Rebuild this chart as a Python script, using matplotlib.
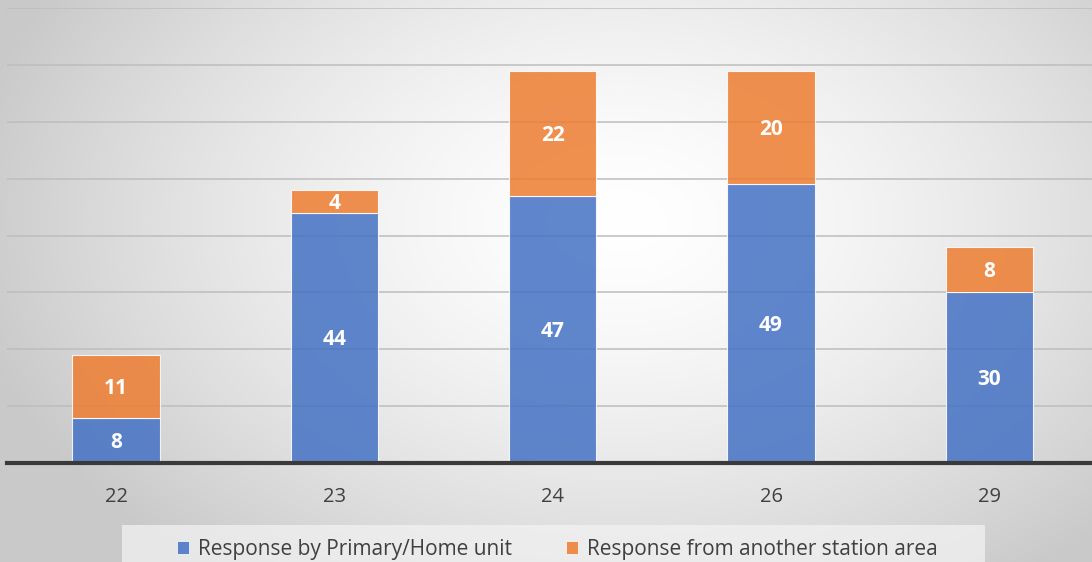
import numpy as np
import matplotlib
matplotlib.use("Agg")
import matplotlib.pyplot as plt
from matplotlib.patches import Patch, Rectangle
from matplotlib.transforms import offset_copy

categories = ["22", "23", "24", "26", "29"]
primary = [8, 44, 47, 49, 30]
another = [11, 4, 22, 20, 8]
series_names = ["Response by Primary/Home unit", "Response from another station area"]

W, H = 1092, 562
fig = plt.figure(figsize=(W / 100, H / 100), dpi=100)
plt.rcParams['font.family'] = ['Open Sans', 'DejaVu Sans']

# radial background gradient
bg = fig.add_axes([0, 0, 1, 1], zorder=-10)
yy, xx = np.mgrid[0:H, 0:W]
cx, cy = 620, 220
r = np.sqrt(((xx - cx) / 640) ** 2 + ((yy - cy) / 430) ** 2)
v = 1.0 - 0.2 * np.clip(r, 0, 1.3) ** 1.5
v = np.clip(v, 0.79, 1.0)
bg.imshow(np.dstack([v, v, v]), extent=[0, W, H, 0], aspect='auto', interpolation='bilinear')
bg.set_axis_off()

left = 7 / W
step = 218.3
ax_w = 5 * step / W
bottom = (H - 463) / H
top_px = 8
ax_h = (463 - top_px) / H
ax = fig.add_axes([left, bottom, ax_w, ax_h])
ax.patch.set_alpha(0)

x = np.arange(len(categories))
bw = 0.40
blue = '#4472C4'
orange = '#ED7D31'
ax.bar(x, primary, bw, color=blue, alpha=0.85, edgecolor='white', linewidth=0.8, zorder=3)
ax.bar(x, another, bw, bottom=primary, color=orange, alpha=0.85, edgecolor='white', linewidth=0.8, zorder=3)

lab_tr = offset_copy(ax.transData, fig=fig, x=0, y=-2, units='dots')
for i in range(len(categories)):
    ax.text(x[i], primary[i] / 2, str(primary[i]), ha='center', va='center', color='white',
            fontsize=15, fontweight='bold', zorder=5, transform=lab_tr)
    ax.text(x[i], primary[i] + another[i] / 2, str(another[i]), ha='center', va='center', color='white',
            fontsize=15, fontweight='bold', zorder=5, transform=lab_tr)

ax.set_xlim(-0.5, 4.5)
ax.set_ylim(0, 80)
ax.set_yticks(np.arange(10, 81, 10))
ax.yaxis.grid(True, color='#bdbdbd', linewidth=1.1, zorder=0)
ax.tick_params(axis='y', length=0, labelleft=False)
ax.set_xticks(x)
ax.set_xticklabels(categories, fontsize=14.5, color='#404040')
ax.tick_params(axis='x', length=0, pad=17)
for s in ['top', 'right', 'left']:
    ax.spines[s].set_visible(False)
ax.spines['bottom'].set_color('#3a3a3a')
ax.spines['bottom'].set_linewidth(3)
ax.spines['bottom'].set_zorder(6)
ax.set_axisbelow(True)

# legend box
fig.patches.append(Rectangle((122 / W, 0), (985 - 122) / W, (562 - 525) / H, transform=fig.transFigure,
                             facecolor='#f2f2f2', alpha=0.75, edgecolor='none', zorder=1))
handles = [Patch(facecolor=blue, alpha=0.85, edgecolor='white', linewidth=0.6),
           Patch(facecolor=orange, alpha=0.85, edgecolor='white', linewidth=0.6)]
fig.legend(handles, series_names, loc='center', bbox_to_anchor=(557 / W, 1 - 549 / H), ncol=2,
           frameon=False, fontsize=15, handlelength=0.6, handleheight=0.6, handletextpad=0.4,
           columnspacing=2.6, labelcolor='#404040')

fig.savefig('out.png', dpi=100)
